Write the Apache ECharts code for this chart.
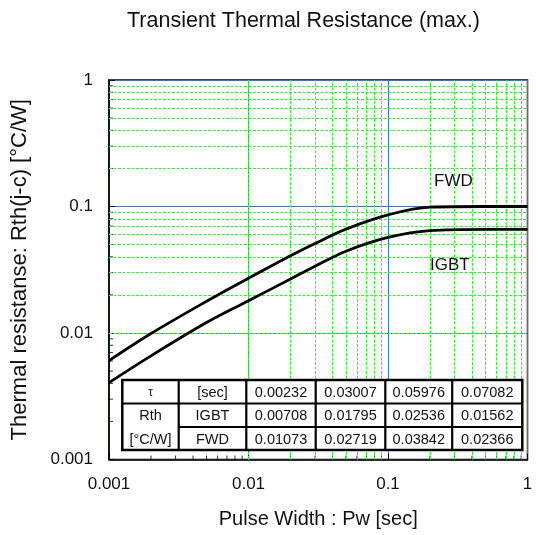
<!DOCTYPE html>
<html><head><meta charset="utf-8">
<script src="https://cdn.jsdelivr.net/npm/echarts@6/dist/echarts.min.js"></script>
<style>html,body{margin:0;padding:0;background:#fff}#c{width:541px;height:535px}</style>
</head><body><div id="c"></div>
<script>
const titleText = 'Transient Thermal Resistance (max.)';
const xName = 'Pulse Width : Pw [sec]';
const yName = 'Thermal resistanse: Rth(j-c) [°C/W]';
const xTickLabels = {0.001:'0.001', 0.01:'0.01', 0.1:'0.1', 1:'1'};
const yTickLabels = {0.001:'0.001', 0.01:'0.01', 0.1:'0.1', 1:'1'};
const fwdData = [[0.001,0.00604],[0.002,0.0099],[0.005,0.0178],[0.01,0.0271],[0.02,0.0408],[0.03,0.0510],[0.05,0.0662],[0.1,0.0858],[0.2,0.0988],[0.5,0.1],[1,0.1]];
const igbtData = [[0.001,0.00405],[0.002,0.0066],[0.005,0.0121],[0.01,0.018],[0.02,0.0267],[0.03,0.0337],[0.05,0.0443],[0.1,0.0569],[0.2,0.0645],[0.5,0.066],[1,0.066]];
const minorX = [];
const minorY = [];
[0.001,0.01,0.1].forEach(d=>{for(let k=2;k<=9;k++){minorX.push(+(d*k).toPrecision(3));minorY.push(+(d*k).toPrecision(3));}});
const tableRows = [
  ['τ','[sec]','0.00232','0.03007','0.05976','0.07082'],
  ['Rth','IGBT','0.00708','0.01795','0.02536','0.01562'],
  ['[°C/W]','FWD','0.01073','0.02719','0.03842','0.02366']
];
const tableCols = [122.3,178.7,246.3,315.7,385.3,452.2,522.3];
const tableRowsY = [380,403.5,427,450];

const chart = echarts.init(document.getElementById('c'));
const F = 'Liberation Sans, Arial, sans-serif';
const graphics = [];
graphics.push({type:'rect',shape:{x:tableCols[0],y:tableRowsY[0],width:tableCols[6]-tableCols[0],height:tableRowsY[3]-tableRowsY[0]},style:{fill:'#fff',stroke:'#000',lineWidth:2.5},z:100});
for(let i=1;i<6;i++) graphics.push({type:'line',shape:{x1:tableCols[i],y1:tableRowsY[0],x2:tableCols[i],y2:tableRowsY[3]},style:{stroke:'#000',lineWidth:2.2},z:101});
graphics.push({type:'line',shape:{x1:tableCols[0],y1:tableRowsY[1],x2:tableCols[6],y2:tableRowsY[1]},style:{stroke:'#000',lineWidth:2.2},z:101});
graphics.push({type:'line',shape:{x1:tableCols[1],y1:tableRowsY[2],x2:tableCols[6],y2:tableRowsY[2]},style:{stroke:'#000',lineWidth:2.2},z:101});
tableRows.forEach((row,r)=>{row.forEach((t,c)=>{
  graphics.push({type:'text',x:(tableCols[c]+tableCols[c+1])/2,y:(tableRowsY[r]+tableRowsY[r+1])/2+1,style:{text:t,fontFamily:F,fontSize:r===0&&c===0?12:14.5,fill:'#111',align:'center',verticalAlign:'middle'},z:102});
});});
graphics.push({type:'text',x:434,y:181,style:{text:'FWD',fontFamily:F,fontSize:17,fill:'#111',verticalAlign:'middle'},z:50});
graphics.push({type:'text',x:430,y:265,style:{text:'IGBT',fontFamily:F,fontSize:17,fill:'#111',verticalAlign:'middle'},z:50});

chart.setOption({
  animation:false,
  title:{text:titleText,left:122,top:5,textStyle:{fontFamily:F,fontSize:21.5,fontWeight:'normal',color:'#111'}},
  grid:{left:109,top:80,right:13.5,bottom:75.5,show:true,borderColor:'#000',borderWidth:1.5,backgroundColor:'#fff'},
  xAxis:{type:'log',min:0.001,max:1,logBase:10,name:xName,nameLocation:'middle',nameGap:50,
    nameTextStyle:{fontFamily:F,fontSize:20,color:'#111'},
    axisLine:{lineStyle:{color:'#000',width:1.5}},axisTick:{inside:true,length:6,lineStyle:{color:'#000'}},
    axisLabel:{fontFamily:F,fontSize:17,color:'#111',margin:16,formatter:v=>xTickLabels[+v.toPrecision(3)]||''},
    splitLine:{show:true,lineStyle:{color:'#3a6fd8',width:1}}},
  yAxis:{type:'log',min:0.001,max:1,logBase:10,name:yName,nameLocation:'middle',nameGap:78,
    nameTextStyle:{fontFamily:F,fontSize:22,color:'#111'},
    axisLine:{lineStyle:{color:'#000',width:1.5}},axisTick:{inside:true,length:6,lineStyle:{color:'#000'}},
    axisLabel:{fontFamily:F,fontSize:17,color:'#111',margin:16,formatter:v=>yTickLabels[+v.toPrecision(3)]||''},
    splitLine:{show:true,lineStyle:{color:'#3a6fd8',width:1}}},
  graphic:graphics,
  series:[
    {type:'line',data:[],silent:true,z:1,showSymbol:false,
     markLine:{silent:true,symbol:'none',label:{show:false},animation:false,
       lineStyle:{color:'#33ee33',type:[3,1.5],width:1},
       data:minorX.map(v=>({xAxis:v})).concat(minorY.map(v=>({yAxis:v})))}},
    {type:'scatter',silent:true,z:3,data:minorY.map(v=>[0.001,v]),symbol:'rect',symbolSize:[4,1],symbolOffset:[2,0],itemStyle:{color:'#000'}},
    {type:'scatter',silent:true,z:3,data:minorX.map(v=>[v,0.001]),symbol:'rect',symbolSize:[1,4],symbolOffset:[0,-2],itemStyle:{color:'#000'}},
    {name:'FWD',type:'line',data:fwdData,smooth:0.35,showSymbol:false,z:5,lineStyle:{color:'#000',width:2.8}},
    {name:'IGBT',type:'line',data:igbtData,smooth:0.35,showSymbol:false,z:5,lineStyle:{color:'#000',width:2.8}}
  ]
});
</script></body></html>
